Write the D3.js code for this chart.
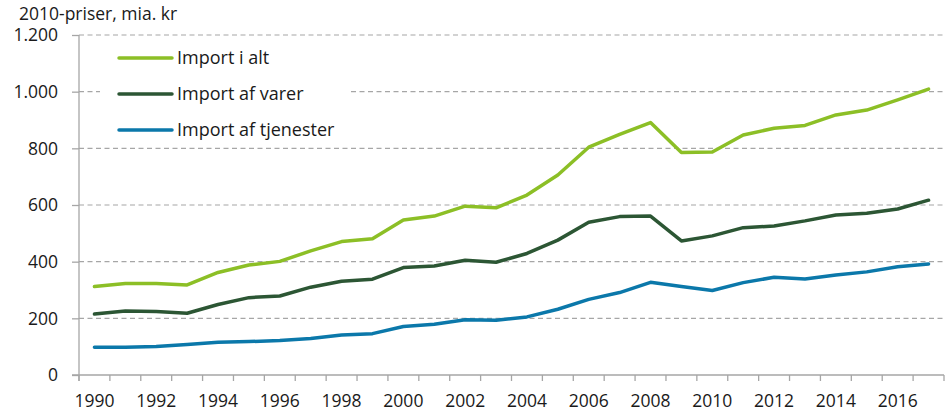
<!DOCTYPE html>
<html>
<head>
<meta charset="utf-8">
<script src="https://cdn.jsdelivr.net/npm/d3@7"></script>
<style>
body { margin: 0; background: #fff; }
svg { display: block; font-family: "Open Sans", sans-serif; }
</style>
</head>
<body>
<div id="chart"></div>
<script>
var years = d3.range(1990, 2018);
var tickYears = [1990, 1992, 1994, 1996, 1998, 2000, 2002, 2004, 2006, 2008, 2010, 2012, 2014, 2016];
var yTicks = [0, 200, 400, 600, 800, 1000, 1200];

var importIAlt = [312, 323, 323, 318, 362, 388, 401, 438, 471, 481, 547, 561, 596, 590,
                  635, 706, 804, 849, 891, 785, 787, 847, 871, 881, 918, 935, 971, 1009];
var importVarer = [215, 226, 224, 218, 249, 273, 279, 310, 331, 338, 379, 385, 405, 398,
                   429, 476, 539, 559, 561, 473, 491, 520, 526, 544, 565, 571, 586, 617];
var importTjenester = [98, 98, 101, 108, 116, 118, 122, 129, 141, 146, 171, 179, 195, 193,
                       205, 232, 267, 291, 327, 312, 298, 326, 345, 339, 353, 364, 382, 392];

var seriesNames = ["Import i alt", "Import af varer", "Import af tjenester"];
var seriesColors = ["#8cbf26", "#2c5634", "#0b78aa"];
var seriesData = [importIAlt, importVarer, importTjenester];

var W = 945, H = 414;
var mLeft = 79, mRight = 944, mTop = 35, mBottom = 375;
var fs = "17.5px";

var loc = d3.formatLocale({decimal: ",", thousands: ".", grouping: [3], currency: ["", " kr"]});
var fmt = loc.format(",d");

var svg = d3.select("#chart").append("svg")
    .attr("width", W)
    .attr("height", H);

var x = d3.scaleBand().domain(years).range([mLeft, mRight]).padding(0);
var y = d3.scaleLinear().domain([0, 1200]).range([mBottom, mTop]);

// grid
svg.append("g")
  .selectAll("line")
  .data(yTicks.filter(function(d) { return d > 0; }))
  .enter().append("line")
  .attr("x1", mLeft).attr("x2", W)
  .attr("y1", function(d) { return y(d); })
  .attr("y2", function(d) { return y(d); })
  .attr("stroke", "#a6a6a6")
  .attr("stroke-width", 1.2)
  .attr("stroke-dasharray", "5,3.5");

// y axis
var yAxis = svg.append("g")
  .attr("transform", "translate(" + mLeft + ",0)")
  .call(d3.axisLeft(y).tickValues(yTicks).tickFormat(fmt).tickSize(7).tickPadding(14));
yAxis.select(".domain").remove();
yAxis.selectAll(".tick line").attr("stroke", "#a6a6a6").attr("stroke-width", 1.3);
yAxis.selectAll("text").attr("fill", "#1a1a1a").style("font-size", fs).style("font-family", "Open Sans").attr("dy", "0.34em");
svg.append("line")
  .attr("x1", mLeft).attr("x2", mLeft)
  .attr("y1", mTop).attr("y2", mBottom + 6)
  .attr("stroke", "#a6a6a6").attr("stroke-width", 1.3);

// x axis
svg.append("line")
  .attr("x1", mLeft - 7).attr("x2", mRight)
  .attr("y1", mBottom).attr("y2", mBottom)
  .attr("stroke", "#a6a6a6").attr("stroke-width", 1.3);
svg.append("g")
  .selectAll("line")
  .data(years.concat([2018]))
  .enter().append("line")
  .attr("x1", function(d) { return d === 2018 ? mRight : x(d); })
  .attr("x2", function(d) { return d === 2018 ? mRight : x(d); })
  .attr("y1", mBottom).attr("y2", mBottom + 6)
  .attr("stroke", "#a6a6a6").attr("stroke-width", 1.3);
svg.append("g")
  .selectAll("text")
  .data(tickYears)
  .enter().append("text")
  .attr("x", function(d) { return x(d) + x.bandwidth() / 2; })
  .attr("y", 407)
  .attr("text-anchor", "middle")
  .attr("fill", "#1a1a1a")
  .style("font-size", fs)
  .text(function(d) { return d; });

// unit label
svg.append("text")
  .attr("x", 19).attr("y", 20)
  .attr("fill", "#1a1a1a")
  .style("font-size", fs)
  .text("2010-priser, mia. kr");

// lines
var line = d3.line()
  .x(function(d, i) { return x(years[i]) + x.bandwidth() / 2; })
  .y(function(d) { return y(d); });

svg.append("g")
  .selectAll("path")
  .data(seriesData)
  .enter().append("path")
  .attr("d", line)
  .attr("fill", "none")
  .attr("stroke", function(d, i) { return seriesColors[i]; })
  .attr("stroke-width", 3.5)
  .attr("stroke-linejoin", "round")
  .attr("stroke-linecap", "round");

// legend
svg.append("rect")
  .attr("x", 100).attr("y", 41)
  .attr("width", 249).attr("height", 104)
  .attr("fill", "#fff");
var leg = svg.append("g")
  .selectAll("g")
  .data(seriesNames)
  .enter().append("g")
  .attr("transform", function(d, i) { return "translate(0," + (58 + i * 36) + ")"; });
leg.append("line")
  .attr("x1", 119).attr("x2", 172)
  .attr("stroke", function(d, i) { return seriesColors[i]; })
  .attr("stroke-width", 3.5)
  .attr("stroke-linecap", "round");
leg.append("text")
  .attr("x", 177).attr("dy", "0.35em")
  .attr("fill", "#1a1a1a")
  .style("font-size", "18px")
  .text(function(d) { return d; });
</script>
</body>
</html>
